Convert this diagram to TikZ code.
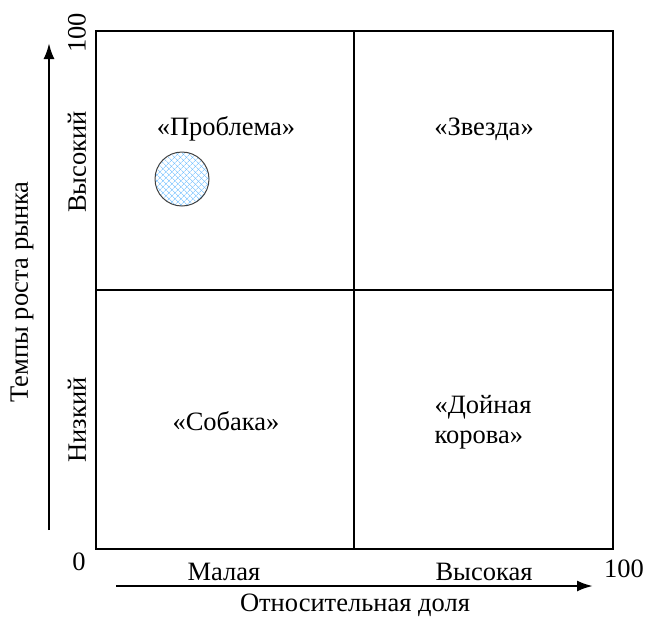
\documentclass[tikz,border=0pt]{standalone}
\usepackage{fontspec}
\setmainfont{Liberation Serif}
\usetikzlibrary{arrows.meta,patterns.meta}
\begin{document}
\begin{tikzpicture}[x=1pt,y=-1pt,
  txt/.style={font=\fontsize{26.5}{30}\selectfont, inner sep=0pt},
  grid/.style={line width=2.2pt},
  axis/.style={line width=2.4pt, -{Latex[length=16pt,width=11pt]}}]
  \useasboundingbox (0,0) rectangle (647,619);
  % matrix frame and quadrant dividers
  \draw[grid] (96,31) rectangle (613,549);
  \coordinate (top) at (354,31);
  \coordinate (bot) at (354,549);
  \coordinate (lft) at (96,290);
  \coordinate (rgt) at (613,290);
  \draw[grid] (top) -- (bot);
  \draw[grid] (lft) -- (rgt);
  % axes
  \coordinate (ya) at (49,530);
  \coordinate (yb) at (49,43);
  \coordinate (xa) at (116,586);
  \coordinate (xb) at (593,586);
  \draw[axis] (ya) -- (yb);
  \draw[axis] (xa) -- (xb);
  % quadrant names
  \node[txt] (q1) at (226,129) {«Проблема»};
  \node[txt] (q2) at (484,129) {«Звезда»};
  \node[txt] (q3) at (226,421) {«Собака»};
  \node[txt, align=left] (q4) at (483,422) {«Дойная\\ корова»};
  % axis labels
  \node[txt, rotate=90] (y100) at (77,33) {100};
  \node[txt, rotate=90] (yhi) at (77,162) {Высокий};
  \node[txt, rotate=90] (ylo) at (77,420) {Низкий};
  \node[txt, rotate=90] (ytitle) at (22,292) {Темпы роста рынка};
  \node[txt] (zero) at (79,562) {0};
  \node[txt] (xlo) at (224,572) {Малая};
  \node[txt] (xhi) at (484,572) {Высокая};
  \node[txt] (x100) at (624,569) {100};
  \node[txt] (xtitle) at (355,605) {Относительная доля};
  % product circle
  \node[circle, draw=black!75, line width=1pt, minimum size=54pt, inner sep=0pt,
        preaction={fill=white},
        pattern={Lines[angle=45,distance=4pt,line width=0.6pt]}, pattern color=blue!45!cyan!60] (c) at (182,179) {};
  \path[pattern={Lines[angle=-45,distance=4pt,line width=0.6pt]}, pattern color=blue!45!cyan!60] (c.center) circle (26.4);
\end{tikzpicture}
\end{document}
